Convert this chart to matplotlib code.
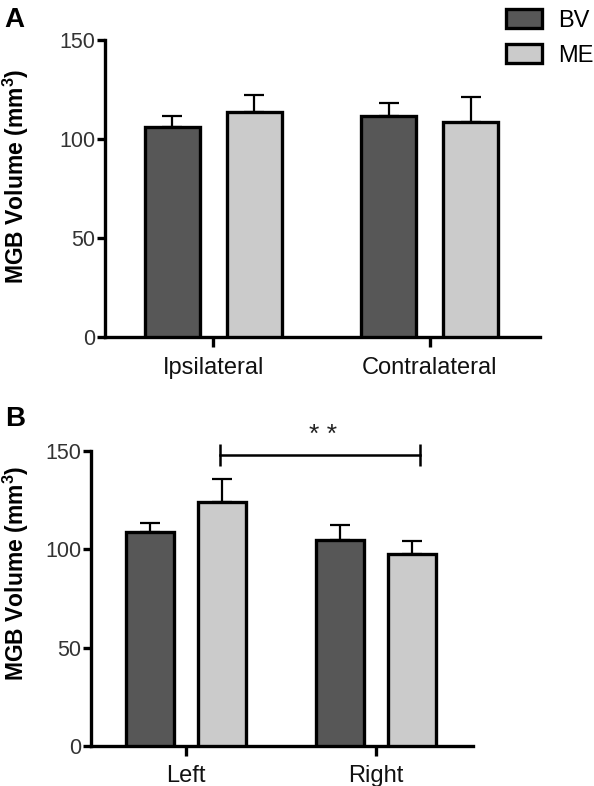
import numpy as np
import matplotlib
matplotlib.use("Agg")
import matplotlib.pyplot as plt

plt.rcParams['font.family'] = ['Liberation Sans', 'DejaVu Sans']

# panel A - ipsi/contra
groups_a = ["Ipsilateral", "Contralateral"]
bv_a = [106, 111.6]
bv_a_err = [5.5, 6.6]
me_a = [113.6, 108.6]
me_a_err = [8.6, 12.6]

# panel B - left/right
groups_b = ["Left", "Right"]
bv_b = [109, 105]
bv_b_err = [4.6, 7.6]
me_b = [123.9, 97.5]
me_b_err = [12, 7]

yticks = [0, 50, 100, 150]
bv_color = "#575757"
me_color = "#cbcbcb"

fig = plt.figure(figsize=(5.94, 7.86), dpi=100)
ax_a = fig.add_axes([0.177, 0.571, 0.732, 0.378])
ax_b = fig.add_axes([0.153, 0.051, 0.643, 0.375])

off = 0.19
w = 0.255


def draw_panel(ax, groups, bv, bv_err, me, me_err):
    x = np.arange(len(groups))
    ax.bar(x - off, bv, w, color=bv_color, edgecolor="black", linewidth=2.4,
           yerr=[np.zeros(len(bv)), bv_err], error_kw=dict(ecolor="black", elinewidth=1.6, capsize=7, capthick=1.6),
           label="BV", zorder=3)
    ax.bar(x + off, me, w, color=me_color, edgecolor="black", linewidth=2.4,
           yerr=[np.zeros(len(me)), me_err], error_kw=dict(ecolor="black", elinewidth=1.6, capsize=7, capthick=1.6),
           label="ME", zorder=3)
    ax.set_ylim(0, 150)
    ax.set_xlim(-0.5, 1.51)
    ax.set_yticks(yticks)
    ax.set_yticklabels([str(t) for t in yticks], fontsize=15.5, color="#333333")
    ax.set_xticks(x)
    ax.set_xticklabels(groups, fontsize=17, color="#111111")
    for s in ["top", "right"]:
        ax.spines[s].set_visible(False)
    for s in ["left", "bottom"]:
        ax.spines[s].set_linewidth(2.4)
    ax.tick_params(axis="y", length=6, width=2.4, pad=1)
    ax.tick_params(axis="x", length=7, width=2.4, pad=7)
    return x


draw_panel(ax_a, groups_a, bv_a, bv_a_err, me_a, me_a_err)
xb = draw_panel(ax_b, groups_b, bv_b, bv_b_err, me_b, me_b_err)

# significance bracket
ax_b.errorbar([0.18, 1.234], [148.2, 148.2], yerr=5.5, fmt="none", ecolor="black",
              elinewidth=1.8, capsize=0, clip_on=False)
ax_b.plot([0.18, 1.234], [148.2, 148.2], color="black", linewidth=1.8, clip_on=False)
ax_b.text(0.72, 152, "* *", ha="center", va="bottom", fontsize=19, color="#222222")

handles, labels = ax_a.get_legend_handles_labels()
fig.legend(handles, labels, loc="upper left", bbox_to_anchor=(0.852, 0.9885), frameon=False, fontsize=17,
           borderpad=0, borderaxespad=0, handlelength=1.52, handleheight=0.89,
           handletextpad=0.68, labelspacing=0.5)

ylabel = "MGB Volume (mm$^\\mathregular{3}$)"
fig.text(0.027, 0.776, ylabel, rotation=90, ha="center", va="center", fontsize=16.5, fontweight="bold")
fig.text(0.027, 0.27, ylabel, rotation=90, ha="center", va="center", fontsize=16.5, fontweight="bold")

fig.text(0.008, 0.974, "A", fontsize=20, fontweight="bold", va="center")
fig.text(0.008, 0.467, "B", fontsize=20, fontweight="bold", va="center")

fig.savefig("out.png", dpi=100)
